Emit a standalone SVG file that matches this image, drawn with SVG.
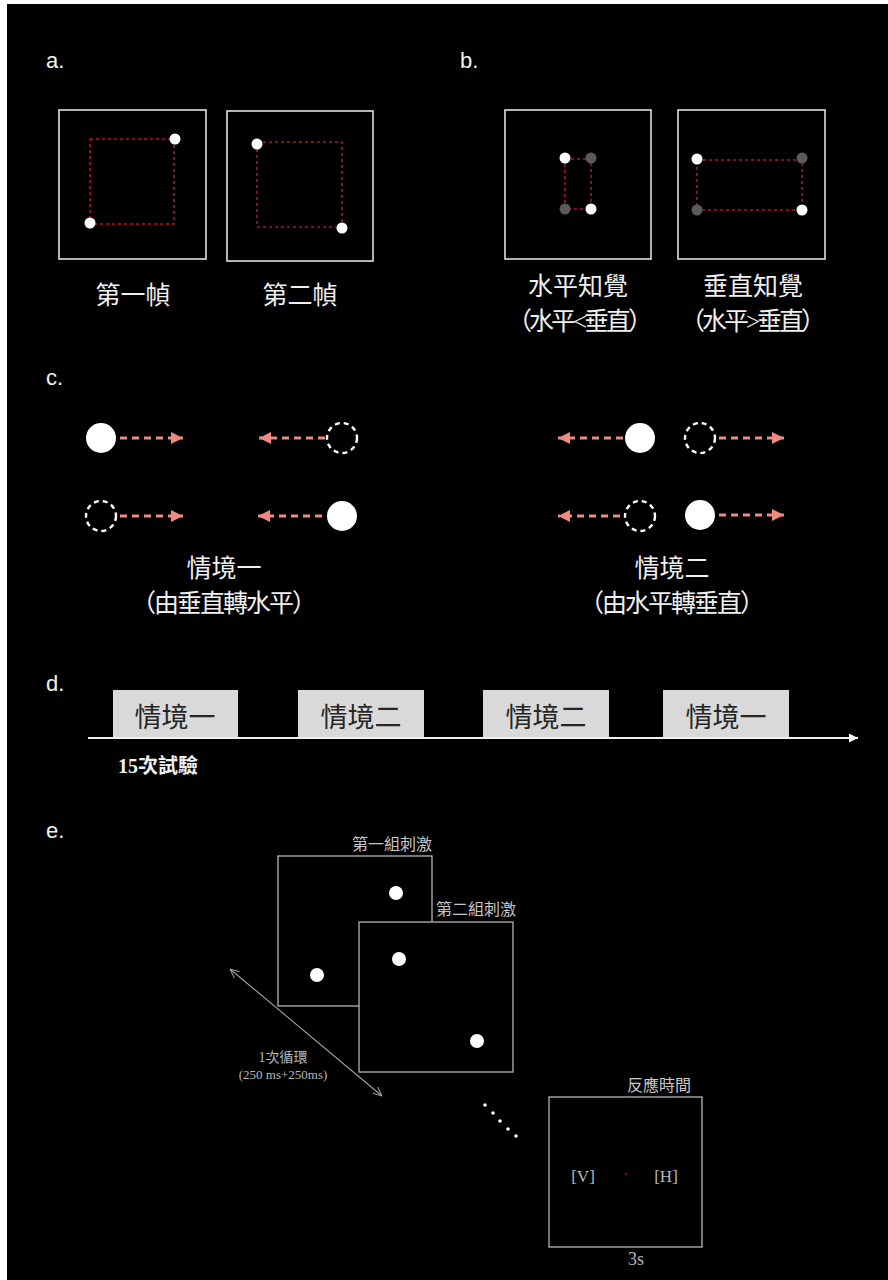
<svg xmlns="http://www.w3.org/2000/svg" width="888" height="1280" viewBox="0 0 888 1280">
<defs>
<style>
.lbl{font-family:"Liberation Sans",Arial,sans-serif;font-size:22px;fill:#f2f2f2}
.cjk{font-family:"Liberation Serif","Noto Sans CJK TC",serif;font-size:25px;fill:#f0f0f0;text-anchor:middle}
.box{fill:none;stroke:#e0e0e0;stroke-width:1.6}
.rd{fill:none;stroke:#b3161b;stroke-width:1.6;stroke-dasharray:3 3}
.wd{fill:#ffffff}
.gd{fill:#5a5a5a}
.mv{fill:none;stroke:#ef8a80;stroke-width:3;stroke-dasharray:7 5}
.dc{fill:none;stroke:#ffffff;stroke-width:2.4;stroke-dasharray:5 4}
.sc{fill:#ffffff}
.tb{fill:#d9d9d9}
.tbt{font-family:"Liberation Serif","Noto Sans CJK TC",serif;font-size:27px;fill:#262626;text-anchor:middle}
.ebox{fill:#000;stroke:#b5b5b5;stroke-width:1.3}
.et{font-family:"Liberation Serif","Noto Sans CJK TC",serif;font-size:16px;fill:#c8c8c8}
.es{font-family:"Liberation Serif","Noto Sans CJK TC",serif;font-size:13px;fill:#b8b8b8;text-anchor:middle}
</style>
<marker id="ah" viewBox="0 0 10 10" refX="10" refY="5" markerWidth="12" markerHeight="12" markerUnits="userSpaceOnUse" orient="auto">
<path d="M0,0 L10,5 L0,10 z" fill="#ef8a80"/>
</marker>
<marker id="wa" viewBox="0 0 10 10" refX="10" refY="5" markerWidth="9" markerHeight="9" markerUnits="userSpaceOnUse" orient="auto">
<path d="M0,0 L10,5 L0,10 z" fill="#ffffff"/>
</marker>
<marker id="oa" viewBox="0 0 10 10" refX="10" refY="5" markerWidth="9" markerHeight="9" markerUnits="userSpaceOnUse" orient="auto-start-reverse">
<path d="M0,0.5 L10,5 L0,9.5" fill="none" stroke="#a0a0a0" stroke-width="1.2"/>
</marker>
</defs>
<rect x="0" y="0" width="888" height="1280" fill="#ffffff"/>
<rect x="7" y="4" width="881" height="1276" fill="#000000"/>

<!-- panel a -->
<text class="lbl" x="46" y="68">a.</text>
<g id="a-frame1">
<rect class="box" x="59" y="110" width="147" height="149"/>
<rect class="rd" x="90" y="139" width="84" height="85"/>
<circle class="wd" cx="175" cy="139" r="5.5"/>
<circle class="wd" cx="90" cy="223" r="5.5"/>
<text class="cjk" x="133" y="304">第一幀</text>
</g>
<g id="a-frame2">
<rect class="box" x="227" y="111" width="146" height="150"/>
<rect class="rd" x="257" y="142" width="85" height="85"/>
<circle class="wd" cx="257" cy="144" r="5.5"/>
<circle class="wd" cx="342" cy="228" r="5.5"/>
<text class="cjk" x="300" y="304">第二幀</text>
</g>

<!-- panel b -->
<text class="lbl" x="460" y="68">b.</text>
<g id="b-horizontal">
<rect class="box" x="505" y="110" width="146" height="149"/>
<rect class="rd" x="565" y="159" width="26" height="50"/>
<circle class="gd" cx="591" cy="158" r="5.5"/>
<circle class="gd" cx="565" cy="209" r="5.5"/>
<circle class="wd" cx="565" cy="158" r="5.5"/>
<circle class="wd" cx="591" cy="209" r="5.5"/>
<text class="cjk" x="578" y="295">水平知覺</text>
<text class="cjk" x="580" y="330" textLength="146">（水平&lt;垂直）</text>
</g>
<g id="b-vertical">
<rect class="box" x="678" y="110" width="147" height="149"/>
<rect class="rd" x="697" y="160" width="105" height="50"/>
<circle class="gd" cx="802" cy="158" r="5.5"/>
<circle class="gd" cx="697" cy="210" r="5.5"/>
<circle class="wd" cx="697" cy="159" r="5.5"/>
<circle class="wd" cx="802" cy="210" r="5.5"/>
<text class="cjk" x="753" y="295">垂直知覺</text>
<text class="cjk" x="753" y="330" textLength="146">（水平&gt;垂直）</text>
</g>

<!-- panel c -->
<text class="lbl" x="46" y="385">c.</text>
<g id="c-cond1">
<circle class="sc" cx="101" cy="438" r="15"/>
<circle class="dc" cx="342" cy="438" r="15"/>
<circle class="dc" cx="101" cy="516" r="15"/>
<circle class="sc" cx="342" cy="516" r="15"/>
<text class="cjk" x="224" y="577">情境一</text>
<text class="cjk" x="224" y="612" textLength="186">（由垂直轉水平）</text>
</g>
<g id="c-cond2">
<circle class="sc" cx="640" cy="438" r="15"/>
<circle class="dc" cx="700" cy="438" r="15"/>
<circle class="dc" cx="640" cy="516" r="15"/>
<circle class="sc" cx="700" cy="515" r="15"/>
<text class="cjk" x="672" y="577">情境二</text>
<text class="cjk" x="672" y="612" textLength="186">（由水平轉垂直）</text>
</g>

<!-- panel d -->
<text class="lbl" x="46" y="691">d.</text>
<g id="d-b1"><rect class="tb" x="113" y="690" width="125" height="48"/><text class="tbt" x="175" y="727">情境一</text></g>
<g id="d-b2"><rect class="tb" x="298" y="690" width="126" height="48"/><text class="tbt" x="361" y="727">情境二</text></g>
<g id="d-b3"><rect class="tb" x="483" y="690" width="126" height="48"/><text class="tbt" x="546" y="727">情境二</text></g>
<g id="d-b4"><rect class="tb" x="663" y="690" width="126" height="48"/><text class="tbt" x="726" y="727">情境一</text></g>
<g id="d-note"><text x="118" y="773" style="font-family:'Liberation Serif','Noto Sans CJK TC',serif;font-size:20px;font-weight:bold;fill:#f0f0f0">15次試驗</text></g>

<!-- panel e -->
<text class="lbl" x="46" y="838">e.</text>
<g id="e-stim1">
<rect class="ebox" x="278" y="856" width="154" height="150"/>
<circle class="wd" cx="396" cy="893" r="7"/>
<circle class="wd" cx="317" cy="975" r="7"/>
<text class="et" x="352" y="850">第一組刺激</text>
</g>
<g id="e-stim2">
<rect class="ebox" x="359" y="922" width="154" height="150"/>
<circle class="wd" cx="399" cy="959" r="7"/>
<circle class="wd" cx="477" cy="1041" r="7"/>
<text class="et" x="436" y="915">第二組刺激</text>
</g>
<g id="e-cycle">
<text class="es" x="283" y="1062" style="font-size:14px">1次循環</text>
<text class="es" x="283" y="1079">(250 ms+250ms)</text>
</g>
<g id="e-ellipsis">
<circle class="wd" cx="485" cy="1105" r="1.8"/>
<circle class="wd" cx="493" cy="1113" r="1.8"/>
<circle class="wd" cx="500" cy="1121" r="1.8"/>
<circle class="wd" cx="508" cy="1129" r="1.8"/>
<circle class="wd" cx="516" cy="1136" r="1.8"/>
</g>
<g id="e-response">
<rect class="ebox" x="549" y="1097" width="153" height="150"/>
<text class="et" x="627" y="1091">反應時間</text>
<text class="es" x="583" y="1182" style="font-size:17px">[V]</text>
<text class="es" x="666" y="1182" style="font-size:17px">[H]</text>
<circle cx="626" cy="1174" r="1.2" fill="#8a1010"/>
<text class="es" x="636" y="1265" style="font-size:18px">3s</text>
</g>

<g id="connectors">
<line class="mv" x1="120" y1="438" x2="183" y2="438" marker-end="url(#ah)"/>
<line class="mv" x1="325" y1="438" x2="259" y2="438" marker-end="url(#ah)"/>
<line class="mv" x1="120" y1="516" x2="183" y2="516" marker-end="url(#ah)"/>
<line class="mv" x1="322" y1="516" x2="258" y2="516" marker-end="url(#ah)"/>
<line class="mv" x1="623" y1="438" x2="558" y2="438" marker-end="url(#ah)"/>
<line class="mv" x1="719" y1="438" x2="784" y2="438" marker-end="url(#ah)"/>
<line class="mv" x1="620" y1="516" x2="558" y2="516" marker-end="url(#ah)"/>
<line class="mv" x1="719" y1="515" x2="784" y2="515" marker-end="url(#ah)"/>
<line x1="88" y1="738" x2="858" y2="738" stroke="#f0f0f0" stroke-width="2" marker-end="url(#wa)"/>
<line x1="230" y1="969" x2="382" y2="1096" stroke="#a0a0a0" stroke-width="1.1" marker-start="url(#oa)" marker-end="url(#oa)"/>
</g>
</svg>
